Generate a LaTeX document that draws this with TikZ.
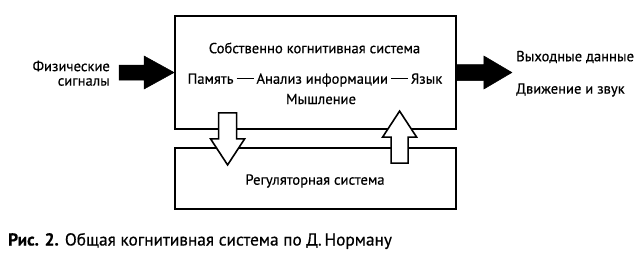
\documentclass[tikz,border=0pt]{standalone}
\usepackage{fontspec}
\setmainfont{PT Sans}[FakeBold=0.5]
\usetikzlibrary{calc}
\newcommand\longdash{\kern3pt\rule[0.3em]{17pt}{1.3pt}\kern3pt}
\begin{document}
\begin{tikzpicture}[x=1pt,y=-1pt,
  box/.style={draw=black,line width=1.8pt,fill=none,inner sep=0pt},
  lbl/.style={inner sep=0pt,font=\fontsize{14.6}{16}\selectfont},
  blk/.style={fill=black,draw=black,line width=0.5pt,line join=miter},
  wht/.style={fill=white,draw=black,line width=1.6pt,line join=miter}]
\useasboundingbox (0,0) rectangle (640,266);
% boxes
\node[box,minimum width=281pt,minimum height=113pt] (cog) at (315.5,72.5) {};
\node[box,minimum width=281pt,minimum height=61pt] (reg) at (315.5,178.5) {};
% texts in boxes
\node[lbl] (t1) at (314.5,48) {Собственно когнитивная система};
\node[lbl] (t2) at (315,80) {Память\longdash Анализ информации\longdash Язык};
\node[lbl] (t3) at (321,99) {Мышление};
\node[lbl] (t4) at (315,181) {Регуляторная система};
% left labels
\node[lbl,anchor=east] (in1) at (110,66) {Физические};
\node[lbl,anchor=east] (in2) at (110,82) {сигналы};
% right labels
\node[lbl,anchor=west] (out1) at (516,57) {Выходные данные};
\node[lbl,anchor=west] (out2) at (516,90) {Движение и звук};
% black arrows
\draw[blk] (cog.west) -- ++(-30,-16.5) -- ++(0,9) -- ++(-25,0) -- ++(0,15) -- ++(25,0) -- ++(0,9) -- cycle;
\coordinate (ra) at ($(cog.east)+(0,-8)$);
\draw[blk] (ra) -- ++(27,0) -- ++(0,-8.5) -- ++(28,16.5) -- ++(-28,16.5) -- ++(0,-8.5) -- ++(-27,0) -- cycle;
% white arrows
\coordinate (da) at ($(cog.south west)+(53.5,-17)$);
\draw[wht] ($(da)+(-9,0)$) -- ++(18,0) -- ++(0,26) -- ++(8,0) -- ++(-17,26) -- ++(-17,-26) -- ++(8,0) -- cycle;
\coordinate (ua) at ($(reg.north west)+(225.5,16)$);
\draw[wht] ($(ua)+(-8.5,0)$) -- ++(17,0) -- ++(0,-26) -- ++(8.5,0) -- ++(-17,-26) -- ++(-17,26) -- ++(8.5,0) -- cycle;
% caption
\node[inner sep=0pt,anchor=west,font=\fontsize{17.3}{20}\selectfont] (cap) at (8,241) {\textbf{Рис. 2.} Общая когнитивная система по Д.\,Норману};
\end{tikzpicture}
\end{document}
